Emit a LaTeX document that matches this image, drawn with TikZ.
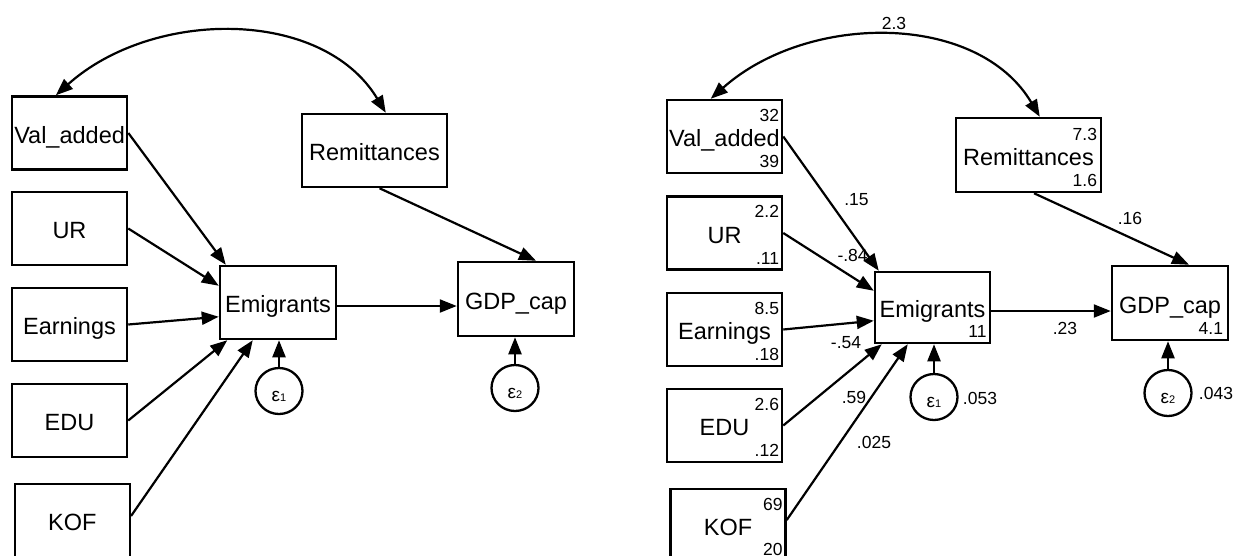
\documentclass[tikz,border=0pt]{standalone}
\usepackage{fontspec}
\setmainfont{Liberation Sans}
\usetikzlibrary{arrows.meta,shapes.geometric,calc}
\newcommand\epslab[1]{{\fontsize{19}{19}\selectfont ε}{\fontsize{11}{11}\selectfont #1}}
\begin{document}
\begin{tikzpicture}[x=1pt,y=-1pt,
 box/.style={draw,line width=2.5pt,inner sep=0pt,minimum width=115pt,minimum height=73pt,
   font=\fontsize{23.5}{24}\selectfont,text height=20.8pt,text depth=0pt},
 err/.style={draw,ellipse,line width=2.3pt,inner sep=0pt,minimum width=47pt,minimum height=46pt},
 num/.style={inner sep=0pt,font=\fontsize{17.5}{18}\selectfont},
 epsl/.style={inner sep=0pt},
 reg/.style={line width=2.2pt,-{Triangle[length=17pt,width=13pt]}},
 cov/.style={line width=2.2pt,{Triangle[length=17pt,width=13pt]}-{Triangle[length=17pt,width=13pt]}}
]
\path[fill=white] (0,0) rectangle (1233,555);
\useasboundingbox (0,0) rectangle (1233,555);

% ---------------- left panel ----------------
\node[box] (VA) at (69.6,133) {Val\_added};
\node[box] (UR) at (69.5,228.5) {UR};
\node[box] (EA) at (69.5,324.5) {Earnings};
\node[box] (ED) at (69.5,420.5) {EDU};
\node[box] (KO) at (72.3,520.5) {KOF};
\node[box,minimum width=145pt] (RE) at (374.5,150.5) {Remittances};
\node[box,minimum width=116pt] (EM) at (278,302.5) {Emigrants};
\node[box,minimum width=116pt,minimum height=74pt] (GD) at (516,299) {GDP\_cap};
\node[err] (E1) at (279,391) {};
\node[epsl,yshift=-5pt] (E1t) at (E1.center) {\epslab{1}};
\node[err] (E2) at (515,388) {};
\node[epsl,yshift=-5pt] (E2t) at (E2.center) {\epslab{2}};

\draw[reg] (VA.east) -- ($(EM.north west)+(7,0)$);
\draw[reg] (UR.east) -- ($(EM.north west)+(0,21)$);
\draw[reg] (EA.east) -- ($(EM.north west)+(0,52)$);
\draw[reg] (ED.east) -- ($(EM.south west)+(8.5,0)$);
\draw[reg] ($(KO.east)+(0,-4.5)$) -- ($(EM.south west)+(34,0)$);
\draw[reg] (E1.north) -- ($(EM.south)+(1,0)$);
\draw[reg] ($(RE.south)+(5,0)$) -- ($(GD.north)+(20,0)$);
\draw[reg] ($(EM.east)+(0,3.5)$) -- ($(GD.west)+(0,7)$);
\draw[reg] (E2.north) -- ($(GD.south)+(-1,0)$);
\draw[cov] ($(VA.north west)+(45,0)$) .. controls (152.5,8.6) and (322.5,7.6) .. ($(RE.north west)+(85,0)$);

% ---------------- right panel ----------------
\node[box] (VA2) at (724.5,136.5) {Val\_added};
\node[box] (UR2) at (724.5,233) {UR};
\node[box] (EA2) at (724.5,329.5) {Earnings};
\node[box] (ED2) at (724.5,425.5) {EDU};
\node[box] (KO2) at (728,525.5) {KOF};
\node[box,minimum width=145pt,minimum height=74pt] (RE2) at (1028.5,155) {Remittances};
\node[box,minimum height=71pt] (EM2) at (932.5,307.5) {Emigrants};
\node[box,minimum width=116pt,minimum height=74pt] (GD2) at (1170,303) {GDP\_cap};
\node[err] (E12) at (934,397) {};
\node[epsl,yshift=-5pt] (E12t) at (E12.center) {\epslab{1}};
\node[err] (E22) at (1168,393) {};
\node[epsl,yshift=-5pt] (E22t) at (E22.center) {\epslab{2}};

\node[num,anchor=east] (VA2m) at ($(VA2.north east)+(-4,16.5)$) {32};
\node[num,anchor=east] (VA2v) at ($(VA2.south east)+(-4,-12.5)$) {39};
\node[num,anchor=east] (UR2m) at ($(UR2.north east)+(-4,16.5)$) {2.2};
\node[num,anchor=east] (UR2v) at ($(UR2.south east)+(-4,-12.5)$) {.11};
\node[num,anchor=east] (EA2m) at ($(EA2.north east)+(-4,16.5)$) {8.5};
\node[num,anchor=east] (EA2v) at ($(EA2.south east)+(-4,-12.5)$) {.18};
\node[num,anchor=east] (ED2m) at ($(ED2.north east)+(-4,16.5)$) {2.6};
\node[num,anchor=east] (ED2v) at ($(ED2.south east)+(-4,-12.5)$) {.12};
\node[num,anchor=east] (KO2m) at ($(KO2.north east)+(-4,16.5)$) {69};
\node[num,anchor=east] (KO2v) at ($(KO2.south east)+(-4,-13.5)$) {20};
\node[num,anchor=east] (RE2m) at ($(RE2.north east)+(-5,18)$) {7.3};
\node[num,anchor=east] (RE2v) at ($(RE2.south east)+(-5,-12.5)$) {1.6};
\node[num,anchor=east] (EM2v) at ($(EM2.south east)+(-4.5,-13)$) {11};
\node[num,anchor=east] (GD2v) at ($(GD2.south east)+(-6,-13)$) {4.1};

\draw[reg] (VA2.east) -- ($(EM2.north west)+(5,0)$);
\draw[reg] (UR2.east) -- ($(EM2.north west)+(0,20)$);
\draw[reg] (EA2.east) -- ($(EM2.north west)+(0,50)$);
\draw[reg] (ED2.east) -- ($(EM2.south west)+(8,0)$);
\draw[reg] ($(KO2.east)+(0,-5.5)$) -- ($(EM2.south west)+(34,0)$);
\draw[reg] (E12.north) -- ($(EM2.south)+(1.5,0)$);
\draw[reg] ($(RE2.south)+(5.5,0)$) -- ($(GD2.north)+(19,0)$);
\draw[reg] ($(EM2.east)+(0,3.5)$) -- ($(GD2.west)+(0,8)$);
\draw[reg] (E22.north) -- ($(GD2.south)+(-2,0)$);
\draw[cov] ($(VA2.north west)+(45,0)$) .. controls (807.5,12.6) and (977.5,11.6) .. ($(RE2.north west)+(85,0)$);

\node[num] (c23) at (894,23) {2.3};
\node[num] (p15) at (856.5,200) {.15};
\node[num] (p84) at (852.6,255) {-.84};
\node[num] (p16) at (1130,218) {.16};
\node[num] (p54) at (846,343) {-.54};
\node[num] (p59) at (854,397) {.59};
\node[num] (p025) at (874,442) {.025};
\node[num] (p23) at (1065,328) {.23};
\node[num] (v053) at (980,398) {.053};
\node[num] (v043) at (1216,393) {.043};
\end{tikzpicture}
\end{document}
